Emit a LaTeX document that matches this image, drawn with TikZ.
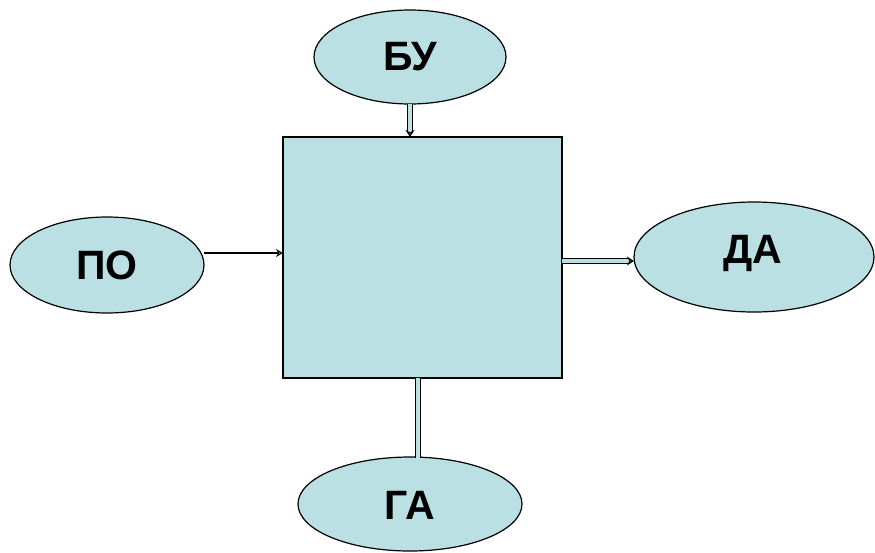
\documentclass[tikz,border=0pt]{standalone}
\usepackage{fontspec}
\setmainfont{Liberation Sans}
\usetikzlibrary{shapes.geometric,arrows.meta}
\definecolor{lblue}{RGB}{186,224,227}
\tikzset{
  oval/.style={ellipse,draw=black,line width=1.2pt,fill=lblue,inner sep=0pt},
  lbl/.style={font=\fontsize{41}{41}\selectfont\bfseries},
  blk/.style={draw=black,line width=1.2pt,fill=lblue},
  dblarrow/.style={double=lblue,double distance=3.2pt,line width=1.2pt,
    -{Stealth[open,length=7pt,width=9pt,fill=lblue]}},
  dblline/.style={double=lblue,double distance=3.5pt,line width=1.2pt},
  sarrow/.style={line width=2.8pt,-{Stealth[open,length=7pt,width=8pt,line width=1pt,fill=lblue]}}
}
\begin{document}
\begin{tikzpicture}[x=1pt,y=-1pt]
\useasboundingbox (0,0) rectangle (875,552);
\node[blk,minimum width=279pt,minimum height=241pt,inner sep=0pt] (sq) at (422.5,257.5) {};
\node[oval,minimum width=192pt,minimum height=94pt] (bu) at (410,57) {};
\node[lbl] (tbu) at (410,57) {БУ};
\node[oval,minimum width=194pt,minimum height=96pt] (po) at (107,265) {};
\node[lbl] (tpo) at (107,265) {ПО};
\node[oval,minimum width=240pt,minimum height=110pt] (da) at (754,257) {};
\node[lbl] (tda) at (753,253) {ДА};
\node[oval,minimum width=224pt,minimum height=94pt] (ga) at (410,504) {};
\node[lbl] (tga) at (410,505) {ГА};
\coordinate (buS) at (410,104);
\coordinate (sqN) at (410,137);
\draw[dblarrow] (buS) -- (sqN);
\coordinate (poE) at (204,253);
\coordinate (sqW) at (283,253);
\draw[sarrow] (poE) -- (sqW);
\coordinate (sqE) at (562,261);
\coordinate (daW) at (634,261);
\draw[dblarrow] (sqE) -- (daW);
\coordinate (sqS) at (418,378);
\coordinate (gaN) at (418,458);
\draw[dblline] (sqS) -- (gaN);
\end{tikzpicture}
\end{document}
